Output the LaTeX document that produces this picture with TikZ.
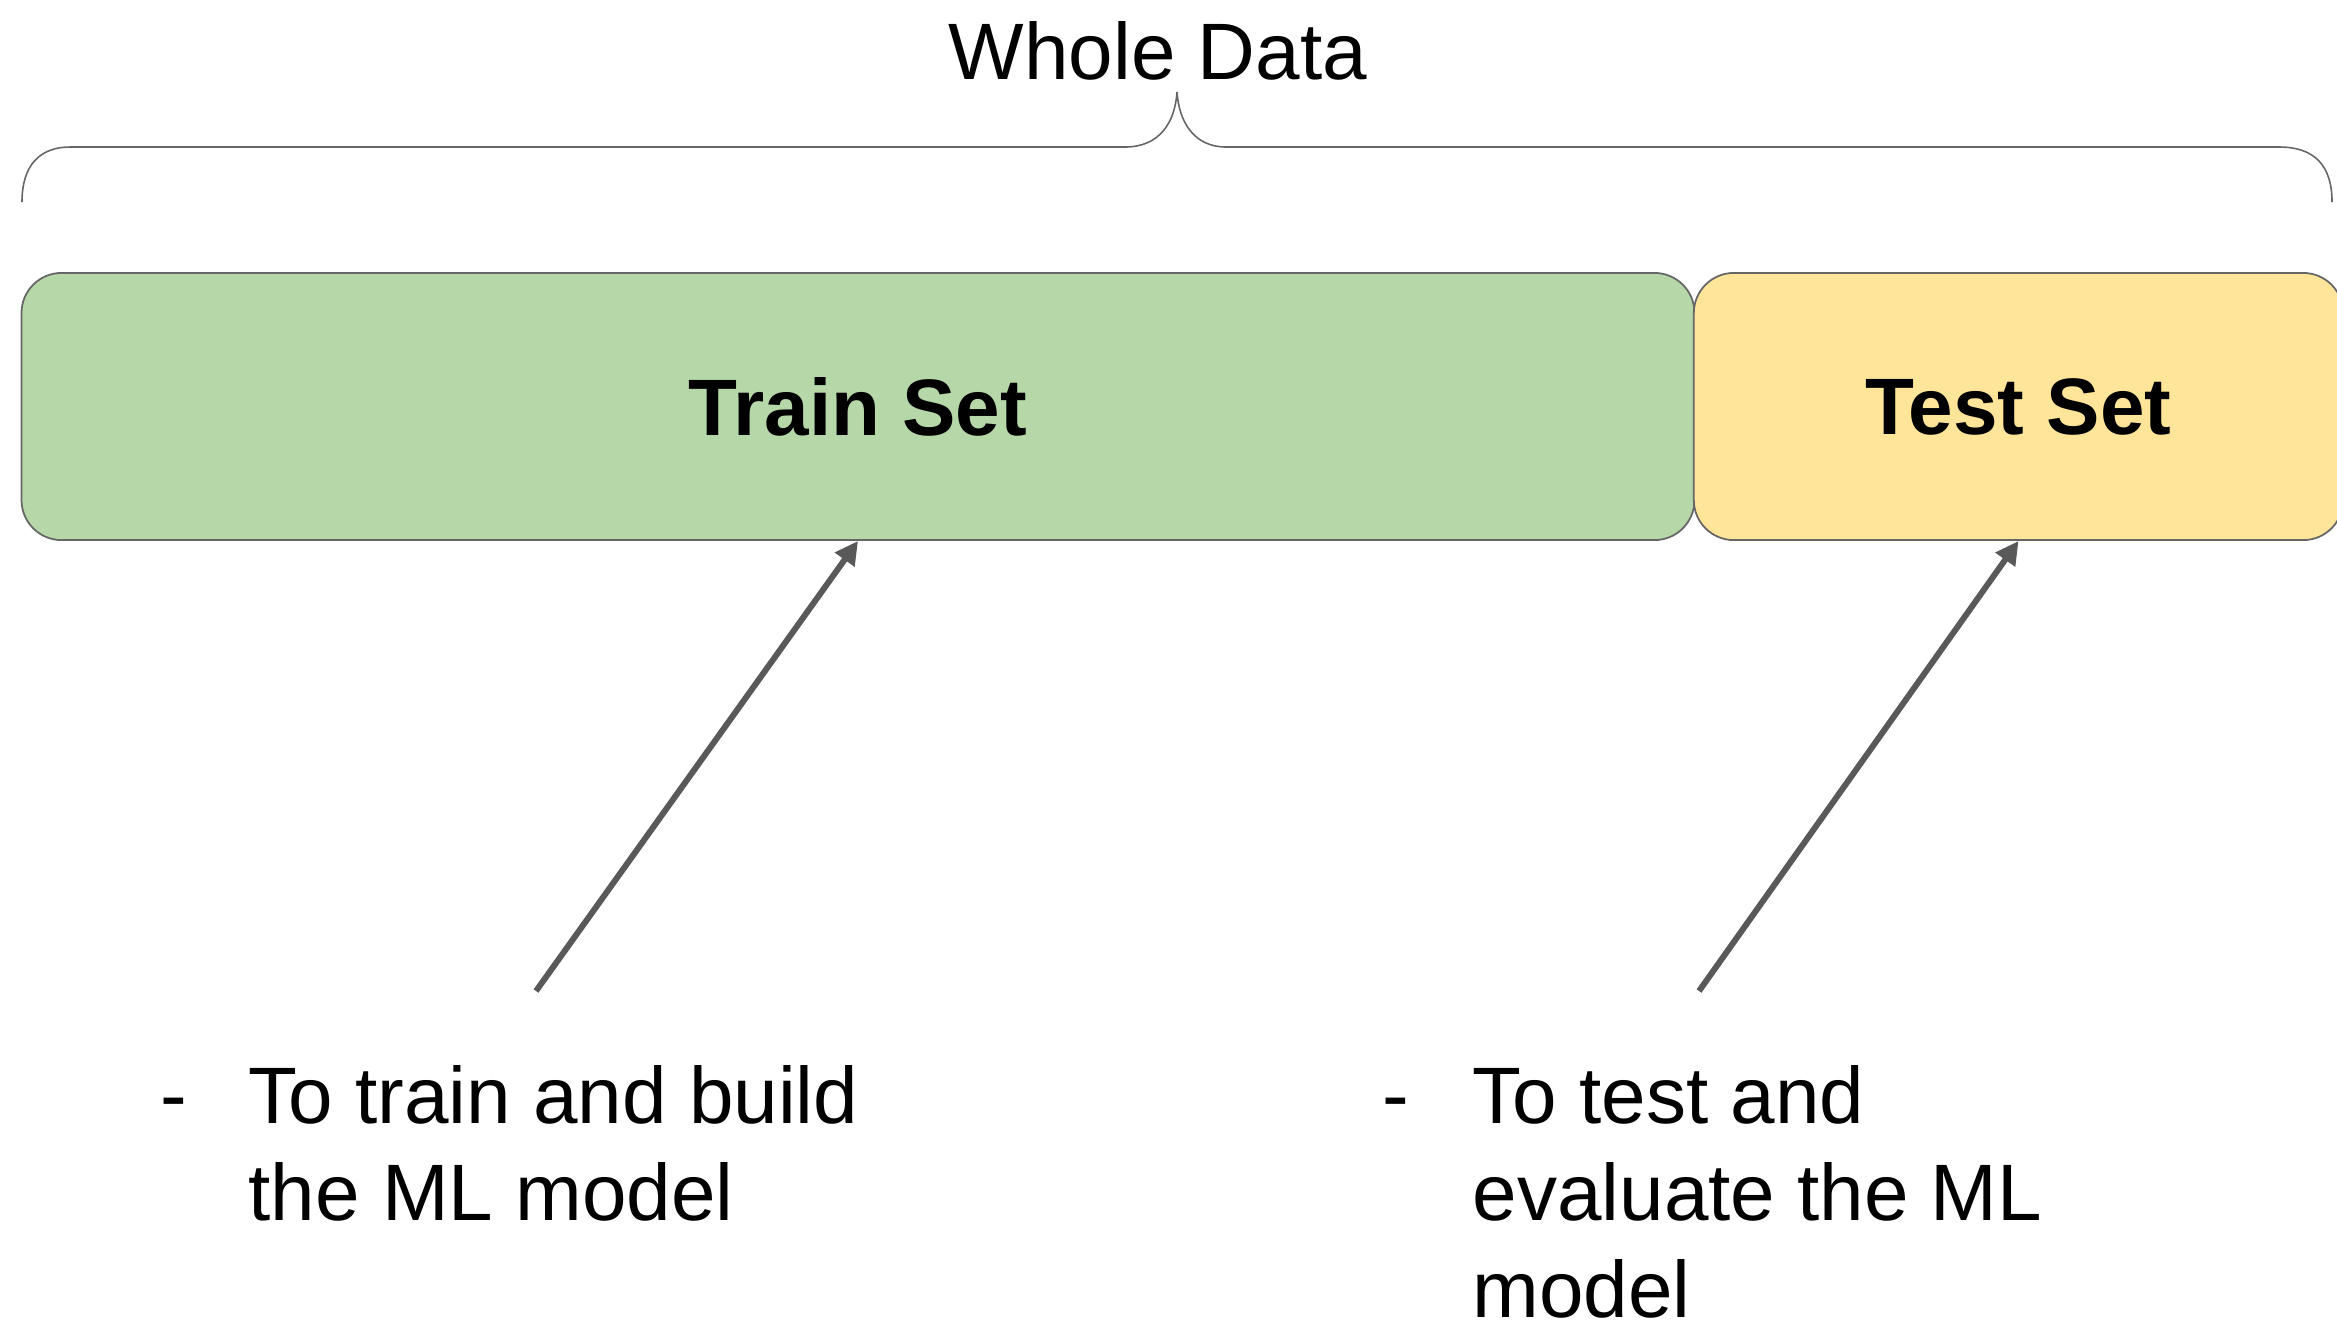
\documentclass[tikz,border=0pt]{standalone}
\usepackage{fontspec}
\setmainfont{Liberation Sans}
\usetikzlibrary{arrows.meta}
\definecolor{trainfill}{HTML}{B6D7A8}
\definecolor{testfill}{HTML}{FFE599}
\definecolor{edgegray}{HTML}{666666}
\definecolor{arrowgray}{HTML}{595959}
\begin{document}
\begin{tikzpicture}[x=0.01cm, y=-0.01cm,
  setbox/.style={draw=edgegray, line width=0.5pt, rounded corners=0.4cm,
    inner sep=0pt, minimum height=2.67cm,
    font=\fontsize{22.76pt}{27.6pt}\selectfont\bfseries},
  labeltext/.style={inner sep=0pt, align=left,
    font=\fontsize{22.76pt}{27.6pt}\selectfont},
  pointer/.style={draw=arrowgray, line width=1.7pt,
    -{Triangle[length=0.23cm, width=0.23cm]}},
  bracepath/.style={draw=edgegray, line width=0.45pt}]
\useasboundingbox (0,0) rectangle (2337,1320);

% title and the brace spanning the whole data
\node[labeltext, anchor=base] (whole) at (1158,79) {Whole Data};
\draw[bracepath] (22,202) .. controls (22,165) and (40,147) .. (70,147)
  -- (1125,147) .. controls (1160,147) and (1175,122) .. (1177,92)
  .. controls (1179,122) and (1194,147) .. (1226,147)
  -- (2279,147) .. controls (2314,147) and (2332,165) .. (2332,202);

% the two splits
\node[setbox, fill=trainfill, minimum width=16.72cm] (train) at (858,406.5) {Train Set};
\node[setbox, fill=testfill, minimum width=6.49cm] (test) at (2018.5,406.5) {Test Set};

% pointers from the notes to the splits
\coordinate (trainfoot) at (536,991);
\coordinate (testfoot) at (1699,991);
\draw[pointer] (trainfoot) -- (train.south);
\draw[pointer] (testfoot) -- (test.south);

% notes
\node[labeltext, anchor=base west] (dashA) at (160,1122) {-};
\node[labeltext, anchor=north west] (noteA) at (248,1065) {To train and build\\the ML model};
\node[labeltext, anchor=base west] (dashB) at (1382,1122) {-};
\node[labeltext, anchor=north west] (noteB) at (1472,1065) {To test and\\evaluate the ML\\model};
\end{tikzpicture}
\end{document}
